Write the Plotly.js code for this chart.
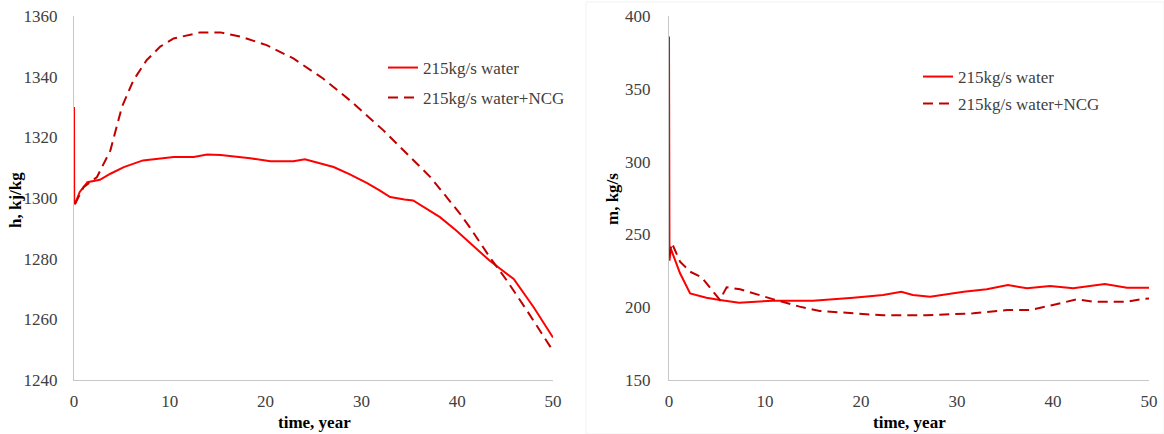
<!DOCTYPE html>
<html>
<head>
<meta charset="utf-8">
<script src="https://cdn.plot.ly/plotly-3.0.1.min.js"></script>
<style>html,body{margin:0;padding:0;background:#fff;}#chart{width:1164px;height:434px;}</style>
</head>
<body>
<div id="chart"></div>
<script>
// Left panel: enthalpy h (kJ/kg) vs time (year)
const hWaterT = [0, 0.02, 0.1, 0.6, 1.4, 2.7, 3.8, 5.2, 7.2, 10.4, 12.5, 13.9, 15.3, 18.4, 20.5, 22.9, 24.1, 25.7, 27.1, 28.8, 30.6, 31.9, 33.0, 34.5, 35.4, 38.2, 39.9, 43.4, 45.9, 48.0, 50.0];
const hWaterV = [1330, 1298.5, 1298, 1302, 1305.2, 1306.0, 1308.0, 1310.2, 1312.4, 1313.5, 1313.5, 1314.3, 1314.2, 1313.1, 1312.1, 1312.1, 1312.8, 1311.3, 1310.2, 1307.8, 1304.9, 1302.5, 1300.3, 1299.5, 1299.2, 1293.7, 1289.3, 1279.3, 1273.3, 1263.9, 1254.0];
const hNcgT = [0.1, 1.0, 2.4, 3.8, 5.0, 6.2, 7.6, 9.0, 10.4, 13.2, 15.3, 17.4, 20.1, 22.9, 26.0, 28.8, 32.3, 34.7, 37.2, 40.3, 41.3, 43.4, 45.2, 47.3, 50.0];
const hNcgV = [1298, 1303.6, 1306.9, 1315.7, 1330.0, 1338.8, 1345.5, 1349.9, 1352.6, 1354.6, 1354.6, 1353.2, 1350.4, 1346.0, 1339.4, 1332.2, 1322.3, 1314.6, 1306.9, 1294.8, 1290.4, 1280.5, 1272.7, 1262.8, 1249.6];

// Right panel: mass flow m (kg/s) vs time (year)
const mWaterT = [0, 0.05, 0.2, 1.15, 2.2, 3.9, 5.3, 7.3, 10.9, 15.0, 19.2, 22.3, 24.2, 25.4, 27.2, 30.7, 33.1, 35.3, 37.3, 39.7, 42.1, 44.2, 45.4, 47.7, 50.0];
const mWaterV = [386, 232, 240, 223.3, 209.5, 206.5, 205.0, 203.1, 204.5, 204.5, 206.5, 208.4, 210.6, 208.4, 207.2, 210.6, 212.3, 215.2, 213.0, 214.6, 213.0, 214.6, 215.9, 213.4, 213.4];
const mNcgT = [0, 0.3, 1.15, 2.2, 3.4, 4.3, 5.3, 6.0, 7.4, 10.9, 13.6, 15.7, 19.2, 22.3, 26.8, 31.7, 35.2, 37.6, 40.0, 42.5, 44.2, 47.7, 49.4, 50.0];
const mNcgV = [235, 244, 231.3, 224.4, 220.5, 213.0, 205.0, 213.7, 212.3, 205.4, 200.4, 197.4, 195.8, 194.4, 194.4, 195.8, 198.0, 198.0, 201.5, 205.4, 203.8, 203.8, 205.8, 206.0];

const seriesNames = ["215kg/s water", "215kg/s water+NCG"];
const xTicks = [0, 10, 20, 30, 40, 50];
const hTicks = [1240, 1260, 1280, 1300, 1320, 1340, 1360];
const mTicks = [150, 200, 250, 300, 350, 400];

const fam = "Liberation Serif";
const solid = {color: '#ff0000', width: 2};
const dashed = {color: '#c00000', width: 2, dash: '10px,6px'};

const traces = [
  {x: hWaterT, y: hWaterV, name: seriesNames[0], mode: 'lines', line: solid, xaxis: 'x', yaxis: 'y', legend: 'legend'},
  {x: hNcgT, y: hNcgV, name: seriesNames[1], mode: 'lines', line: dashed, xaxis: 'x', yaxis: 'y', legend: 'legend2'},
  {x: mWaterT, y: mWaterV, name: seriesNames[0], mode: 'lines', line: solid, xaxis: 'x2', yaxis: 'y2', legend: 'legend3'},
  {x: mNcgT, y: mNcgV, name: seriesNames[1], mode: 'lines', line: dashed, xaxis: 'x2', yaxis: 'y2', legend: 'legend4'}
];

const W = 1164, H = 434;
const tickFont = {family: fam, size: 17, color: '#404040'};
const axCommon = {
  showgrid: false, zeroline: false, showline: true, linecolor: '#c8c8c8', linewidth: 1,
  ticks: '', tickfont: tickFont, fixedrange: true
};
const yTop = 1 - 16 / H, yBot = 1 - 380 / H;
const legFont = {family: fam, size: 17, color: '#404040'};
function leg(px, py) {
  return {x: px / W, y: 1 - py / H, xanchor: 'left', yanchor: 'middle', bgcolor: 'rgba(0,0,0,0)',
          font: legFont, itemwidth: 30, borderwidth: 0};
}
const titleFont = {family: fam, size: 17, color: '#000000'};

const layout = {
  width: W, height: H,
  margin: {l: 0, r: 0, t: 0, b: 0},
  paper_bgcolor: '#ffffff', plot_bgcolor: '#ffffff',
  font: {family: fam, size: 17, color: '#404040'},
  xaxis: Object.assign({}, axCommon, {domain: [74 / W, 553 / W], range: [0, 50], tickvals: xTicks, anchor: 'y', ticklabelstandoff: 6}),
  yaxis: Object.assign({}, axCommon, {domain: [yBot, yTop], range: [1240, 1360], tickvals: hTicks, anchor: 'x', ticklabelstandoff: 12}),
  xaxis2: Object.assign({}, axCommon, {domain: [669 / W, 1149 / W], range: [0, 50], tickvals: xTicks, anchor: 'y2', ticklabelstandoff: 6}),
  yaxis2: Object.assign({}, axCommon, {domain: [yBot, yTop], range: [150, 400], tickvals: mTicks, anchor: 'x2', ticklabelstandoff: 14}),
  legend: leg(383, 68),
  legend2: leg(383, 98),
  legend3: leg(918, 77),
  legend4: leg(918, 104),
  showlegend: true,
  shapes: [
    {type: 'rect', xref: 'paper', yref: 'paper', x0: 586 / W, x1: 1, y0: 0, y1: 1 - 2 / H,
     line: {color: '#f2f2f2', width: 1}, fillcolor: 'rgba(0,0,0,0)', layer: 'below'}
  ],
  annotations: [
    {text: '<b>h, kj/kg</b>', x: 15 / W, y: 1 - 200 / H, xref: 'paper', yref: 'paper', textangle: -90, showarrow: false,
     xanchor: 'center', yanchor: 'middle', font: titleFont},
    {text: '<b>time, year</b>', x: 314 / W, y: 1 - 422 / H, xref: 'paper', yref: 'paper', showarrow: false,
     xanchor: 'center', yanchor: 'middle', font: titleFont},
    {text: '<b>m, kg/s</b>', x: 612 / W, y: 1 - 199 / H, xref: 'paper', yref: 'paper', textangle: -90, showarrow: false,
     xanchor: 'center', yanchor: 'middle', font: titleFont},
    {text: '<b>time, year</b>', x: 909 / W, y: 1 - 422 / H, xref: 'paper', yref: 'paper', showarrow: false,
     xanchor: 'center', yanchor: 'middle', font: titleFont}
  ]
};

Plotly.newPlot('chart', traces, layout, {displayModeBar: false, staticPlot: true});
</script>
</body>
</html>
